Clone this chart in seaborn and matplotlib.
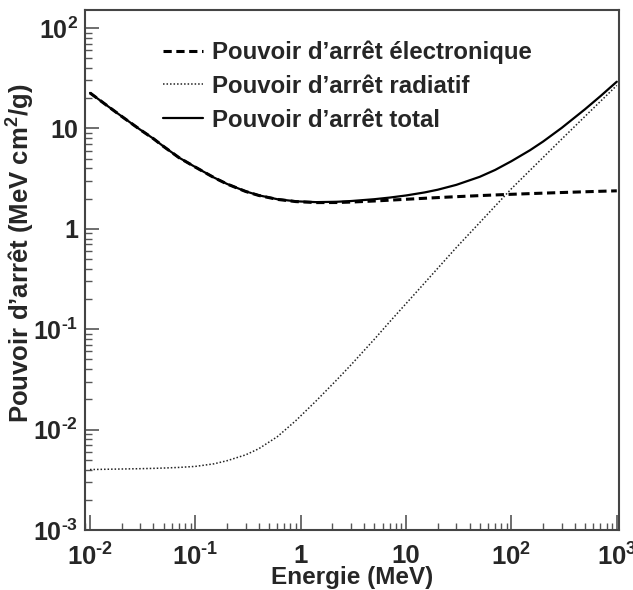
import numpy as np
import pandas as pd
import seaborn as sns
import matplotlib.pyplot as plt
from matplotlib.ticker import LogLocator, FuncFormatter, NullFormatter

# Energies (MeV) and stopping powers (MeV cm2/g)
energie = [0.01, 0.015, 0.02, 0.03, 0.04, 0.05, 0.07, 0.1, 0.15, 0.2, 0.3, 0.4, 0.6, 0.9,
           1.4, 2.2, 3, 5, 7, 10, 15, 20, 30, 50, 70, 100, 150, 200, 300, 500, 700, 1000]
electronique = [22.56, 16.45, 13.17, 9.70, 7.90, 6.60, 5.11, 4.115, 3.238, 2.793, 2.355,
                2.148, 1.963, 1.866, 1.824, 1.827, 1.846, 1.892, 1.928, 1.968, 2.014,
                2.046, 2.089, 2.141, 2.174, 2.206, 2.241, 2.265, 2.298, 2.338, 2.364, 2.389]
radiatif = [0.00400, 0.00403, 0.00405, 0.00408, 0.00411, 0.00414, 0.00420, 0.00430,
            0.00456, 0.00490, 0.00560, 0.00645, 0.00850, 0.0123, 0.0193, 0.0313,
            0.0441, 0.0794, 0.1187, 0.180, 0.289, 0.405, 0.651, 1.153, 1.682, 2.51,
            3.82, 5.14, 7.82, 13.2, 18.6, 26.8]

df = pd.DataFrame({"E": energie, "elec": electronique, "rad": radiatif})
df["total"] = df["elec"] + df["rad"]

sns.set_theme(style="ticks")
plt.rcParams["font.family"] = ["Liberation Sans", "DejaVu Sans"]
plt.rcParams["font.weight"] = "bold"
plt.rcParams["mathtext.fontset"] = "custom"
plt.rcParams["mathtext.bf"] = "Liberation Sans:bold"
plt.rcParams["mathtext.rm"] = "Liberation Sans:bold"
plt.rcParams["mathtext.default"] = "bf"

fig = plt.figure(figsize=(6.33, 5.90), dpi=100)
ax = fig.add_axes([0.1343, 0.1017, 0.978 - 0.1343, 0.983 - 0.1017])

sns.lineplot(data=df, x="E", y="elec", ax=ax, color="black", lw=2.2,
             linestyle=(0, (2.7, 1.5)), label="Pouvoir d’arrêt électronique")
sns.lineplot(data=df, x="E", y="rad", ax=ax, color="#222222", lw=1.1,
             linestyle=(0, (1, 1.3)), label="Pouvoir d’arrêt radiatif")
sns.lineplot(data=df, x="E", y="total", ax=ax, color="black", lw=1.6,
             linestyle="-", label="Pouvoir d’arrêt total")

ax.set_xscale("log")
ax.set_yscale("log")
ax.set_xlim(0.00897, 1051)
ax.set_ylim(1e-3, 151)


def fmt(v, pos):
    e = int(round(np.log10(v)))
    if e == 0:
        return "1"
    if e == 1:
        return "10"
    if e < 0:
        return r"10$^{\text{-}%d}$" % (-e)
    return r"10$^{%d}$" % e


for axis in (ax.xaxis, ax.yaxis):
    axis.set_major_locator(LogLocator(base=10, numticks=12))
    axis.set_minor_locator(LogLocator(base=10, subs=np.arange(2, 10), numticks=12))
    axis.set_major_formatter(FuncFormatter(fmt))
    axis.set_minor_formatter(NullFormatter())

ax.tick_params(axis="both", which="both", direction="in", color="#555555",
               top=False, right=False)
ax.tick_params(axis="y", which="major", length=10, width=1.2, labelsize=18, pad=5)
ax.tick_params(axis="y", which="minor", length=5, width=1.0)
ax.tick_params(axis="x", which="major", length=11, width=1.2, labelsize=18.5, pad=10)
ax.tick_params(axis="x", which="minor", length=5, width=1.0)

for s in ax.spines.values():
    s.set_color("#444444")
    s.set_linewidth(1.5)

ax.set_xlabel("Energie (MeV)", fontsize=17.5, fontweight="bold")
ax.set_ylabel(r"Pouvoir d’arrêt (MeV cm$^{2}$/g)", fontsize=18.5, fontweight="bold")
ax.yaxis.set_label_coords(-0.09, 0.533)
ax.xaxis.set_label_coords(0.5, -0.07)

leg = ax.legend(loc="upper left", bbox_to_anchor=(0.128, 0.96), frameon=False,
                fontsize=17.3, handlelength=1.65, handletextpad=0.4, labelspacing=0.45,
                borderaxespad=0)
for t in leg.get_texts():
    t.set_fontweight("bold")

fig.savefig("out.png", dpi=100)
